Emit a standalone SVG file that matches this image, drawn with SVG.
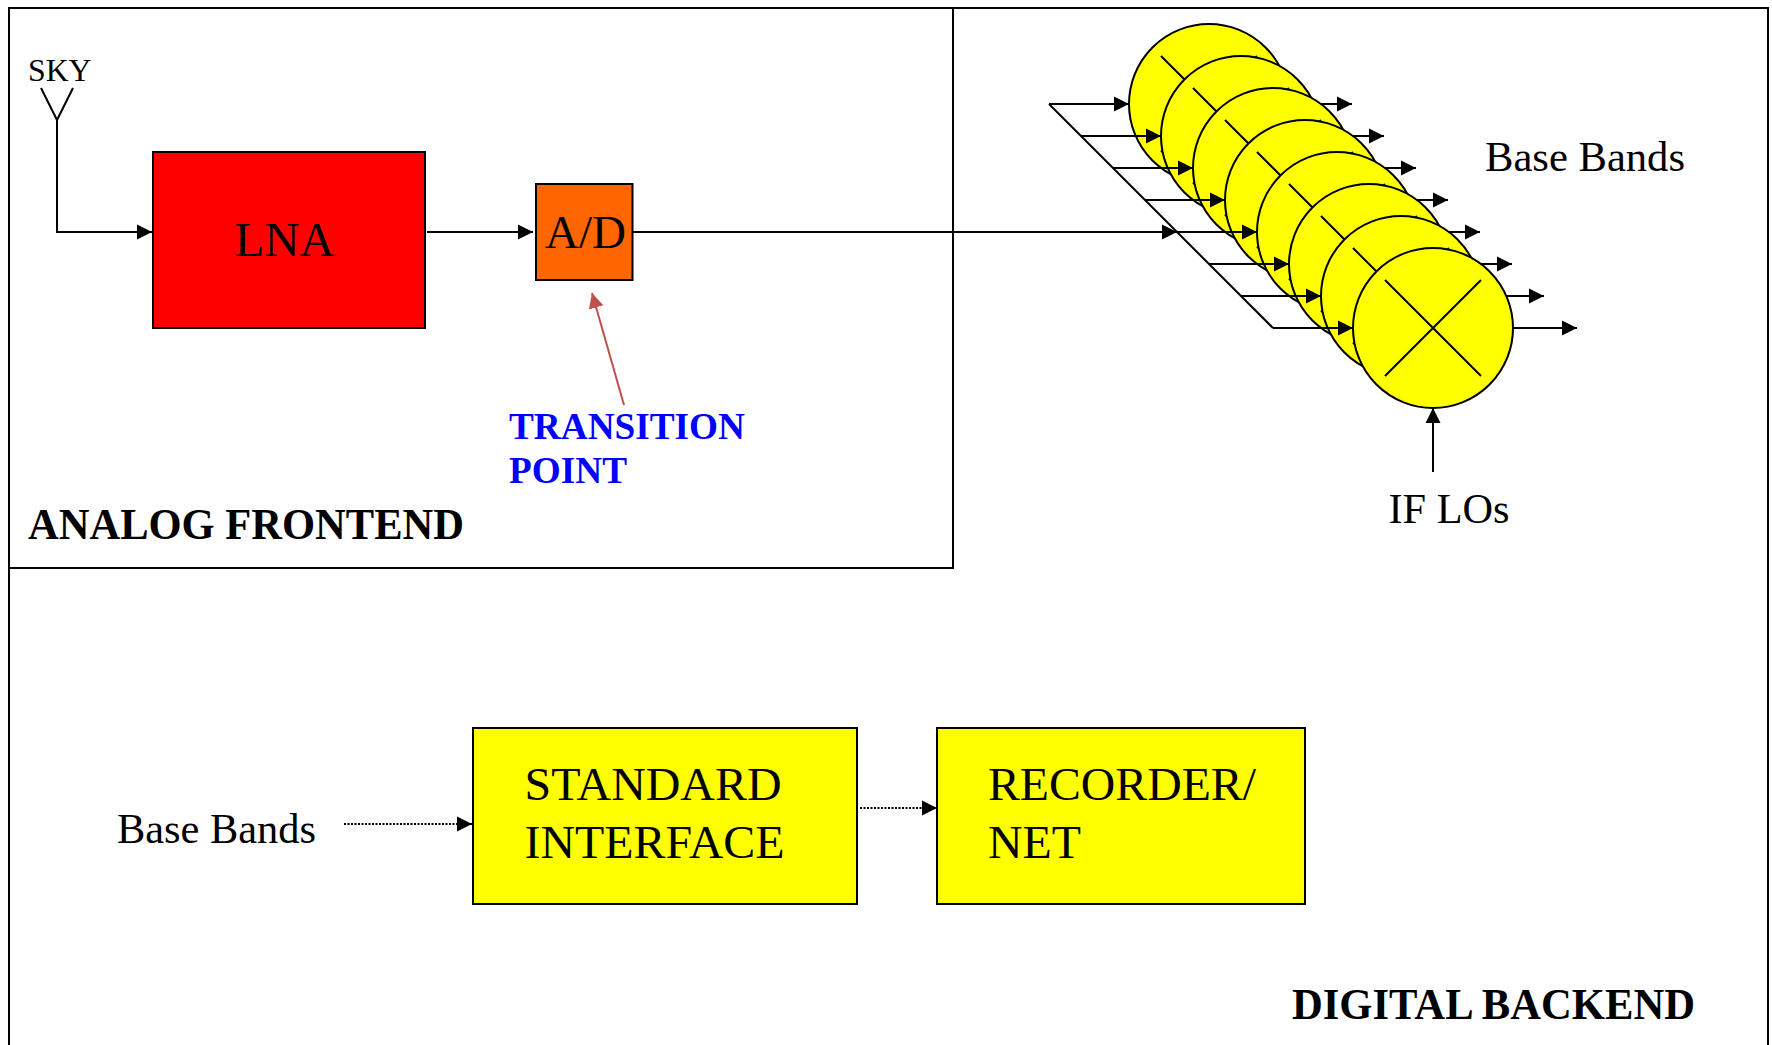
<svg xmlns="http://www.w3.org/2000/svg" width="1772" height="1045" viewBox="0 0 1772 1045">
<style>
text{font-family:"Liberation Serif","Times New Roman",serif;fill:#000}
.b{font-weight:bold}
.box{stroke:#000;stroke-width:2}
.ln{stroke:#000;stroke-width:2;fill:none}
.dot{stroke:#000;stroke-width:2;fill:none;stroke-dasharray:2 1.5}
.m{fill:#ffff00;stroke:#000;stroke-width:2}
</style>
<defs>
<marker id="ah" markerUnits="userSpaceOnUse" markerWidth="16" markerHeight="16" refX="15" refY="8" orient="auto" viewBox="0 0 16 16"><path d="M0 0.5L15 8L0 15.5Z" fill="#000"/></marker>
<marker id="ar" markerUnits="userSpaceOnUse" markerWidth="16" markerHeight="16" refX="15" refY="8" orient="auto" viewBox="0 0 16 16"><path d="M0 0.5L15 8L0 15.5Z" fill="#c0504d"/></marker>
<g id="mix"><circle class="m" r="80"/><path class="ln" d="M-48-48L48 48M48-48L-48 48"/></g>
</defs>
<rect width="1772" height="1045" fill="#fff"/>
<g id="frames">
<path id="digital-backend" class="ln" d="M9 1045V8H1768V1045"/>
<rect id="analog-frontend" class="ln" x="9" y="8" width="944" height="560"/>
</g>
<g id="output-lines">
<path class="ln" marker-end="url(#ah)" d="M1271 104H1352"/>
<path class="ln" marker-end="url(#ah)" d="M1303 136H1384"/>
<path class="ln" marker-end="url(#ah)" d="M1335 168H1416"/>
<path class="ln" marker-end="url(#ah)" d="M1367 200H1448"/>
<path class="ln" marker-end="url(#ah)" d="M1400 232H1480"/>
<path class="ln" marker-end="url(#ah)" d="M1432 264H1512"/>
<path class="ln" marker-end="url(#ah)" d="M1464 296H1544"/>
</g>
<g id="mixer-1"><use href="#mix" x="1209" y="104"/></g>
<g id="mixer-2"><use href="#mix" x="1241" y="136"/></g>
<g id="mixer-3"><use href="#mix" x="1273" y="168"/></g>
<g id="mixer-4"><use href="#mix" x="1305" y="200"/></g>
<g id="mixer-5"><use href="#mix" x="1337" y="232"/></g>
<g id="mixer-6"><use href="#mix" x="1369" y="264"/></g>
<g id="mixer-7"><use href="#mix" x="1401" y="296"/></g>
<g id="mixer-8"><use href="#mix" x="1433" y="328"/></g>
<g id="lna"><rect class="box" x="153" y="152" width="272" height="176" fill="#ff0000"/><text x="235" y="256" font-size="47.5" textLength="100" lengthAdjust="spacingAndGlyphs">LNA</text></g>
<g id="ad"><rect class="box" x="536" y="184" width="96.5" height="96" fill="#ff6600"/><text x="545" y="248" font-size="47" textLength="81" lengthAdjust="spacingAndGlyphs">A/D</text></g>
<g id="standard-interface"><rect class="box" x="473" y="728" width="384" height="176" fill="#ffff00"/><text x="524.5" y="800" font-size="47" textLength="257" lengthAdjust="spacingAndGlyphs">STANDARD</text><text x="524.5" y="858" font-size="47" textLength="260" lengthAdjust="spacingAndGlyphs">INTERFACE</text></g>
<g id="recorder"><rect class="box" x="937" y="728" width="368" height="176" fill="#ffff00"/><text x="988" y="800" font-size="47" textLength="268" lengthAdjust="spacingAndGlyphs">RECORDER/</text><text x="988" y="858" font-size="47" textLength="93" lengthAdjust="spacingAndGlyphs">NET</text></g>
<g id="connectors">
<path class="ln" d="M41 88L57 120L73 88"/>
<path class="ln" marker-end="url(#ah)" d="M57 120V232H152"/>
<path class="ln" marker-end="url(#ah)" d="M427 232H533"/>
<path class="ln" marker-end="url(#ah)" d="M633 232H1177"/>
<path class="ln" d="M1049 104L1273 328"/>
<path class="ln" marker-end="url(#ah)" d="M1049 104H1129"/>
<path class="ln" marker-end="url(#ah)" d="M1081 136H1161"/>
<path class="ln" marker-end="url(#ah)" d="M1113 168H1193"/>
<path class="ln" marker-end="url(#ah)" d="M1145 200H1225"/>
<path class="ln" marker-end="url(#ah)" d="M1177 232H1257"/>
<path class="ln" marker-end="url(#ah)" d="M1209 264H1289"/>
<path class="ln" marker-end="url(#ah)" d="M1241 296H1321"/>
<path class="ln" marker-end="url(#ah)" d="M1273 328H1353"/>
<path class="ln" marker-end="url(#ah)" d="M1513 328H1577"/>
<path class="ln" marker-end="url(#ah)" d="M1433 472V408"/>
<path stroke="#c0504d" stroke-width="2" fill="none" marker-end="url(#ar)" d="M624 405L592 293"/>
<path class="dot" marker-end="url(#ah)" d="M344 824H472"/>
<path class="dot" marker-end="url(#ah)" d="M860 808H937"/>
</g>
<g id="labels">
<text x="28" y="81" font-size="31" textLength="63.5" lengthAdjust="spacingAndGlyphs">SKY</text>
<text x="1485" y="171" font-size="42" textLength="200" lengthAdjust="spacingAndGlyphs">Base Bands</text>
<text x="1388.5" y="523" font-size="42" textLength="121" lengthAdjust="spacingAndGlyphs">IF LOs</text>
<text x="117" y="843" font-size="42" textLength="199" lengthAdjust="spacingAndGlyphs">Base Bands</text>
<text class="b" x="509" y="439" font-size="37.5" textLength="236" lengthAdjust="spacingAndGlyphs" style="fill:#0000ff">TRANSITION</text>
<text class="b" x="509" y="483" font-size="37.5" textLength="118" lengthAdjust="spacingAndGlyphs" style="fill:#0000ff">POINT</text>
<text class="b" x="28" y="539" font-size="43.4" textLength="436" lengthAdjust="spacingAndGlyphs">ANALOG FRONTEND</text>
<text class="b" x="1292" y="1019" font-size="43.4" textLength="403" lengthAdjust="spacingAndGlyphs">DIGITAL BACKEND</text>
</g>
</svg>
